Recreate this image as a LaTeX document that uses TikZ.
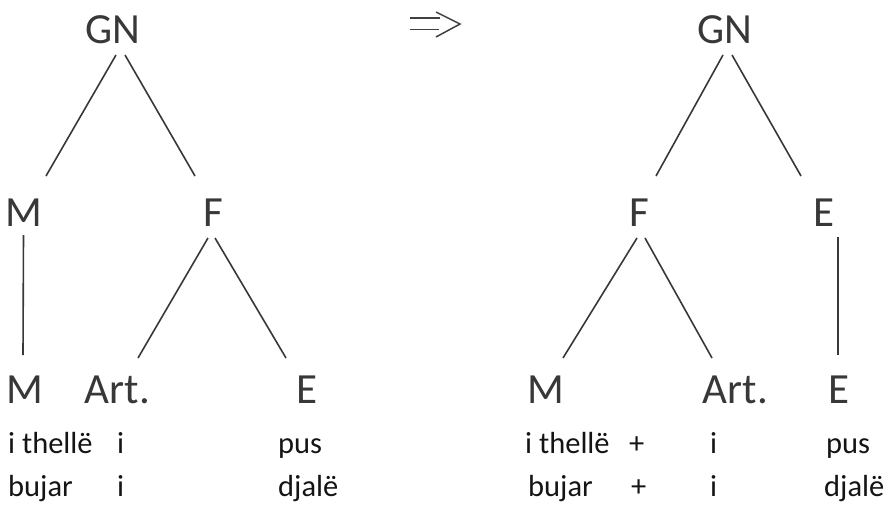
\documentclass[tikz,border=0pt]{standalone}
\usepackage{fontspec}
\setmainfont{Carlito}
\begin{document}
\begin{tikzpicture}[x=1pt,y=-1pt,
  lab/.style={anchor=base,inner sep=0pt,text=black!78,font=\fontsize{43}{50}\selectfont},
  word/.style={anchor=base west,inner sep=0pt,text=black!92,font=\fontsize{30.5}{36}\selectfont},
  edge/.style={draw=black!78,line width=1.6pt}]
\useasboundingbox (0,0) rectangle (888,506);
% left tree
\node[lab] (GNL) at (113,43) {GN};
\node[lab] (ML) at (23.5,226) {M};
\node[lab] (FL) at (213,226) {F};
\node[lab] (MbL) at (24.5,403) {M};
\node[lab] (ArtL) at (117.5,403) {Art.};
\node[lab] (EbL) at (307,403) {E};
\draw[edge] ([shift={(3,12)}]GNL.base) -- ([shift={(22.5,-50)}]ML.base);
\draw[edge] ([shift={(12,12)}]GNL.base) -- ([shift={(-18,-50)}]FL.base);
\draw[edge] ([shift={(0,9)}]ML.base) -- ([shift={(-1.5,-48)}]MbL.base);
\draw[edge] ([shift={(-5,12)}]FL.base) -- ([shift={(20.5,-45)}]ArtL.base);
\draw[edge] ([shift={(2,12)}]FL.base) -- ([shift={(-21,-45)}]EbL.base);
\node[word] (w1) at (8,453) {i thellë};
\node[word] (w2) at (117,453) {i};
\node[word] (w3) at (278,453) {pus};
\node[word] (w4) at (8,496) {bujar};
\node[word] (w5) at (117,496) {i};
\node[word] (w6) at (278,496) {djalë};
% arrow
\coordinate (ar1) at (410,18);
\coordinate (ar2) at (440,18);
\coordinate (ar3) at (410,29.5);
\coordinate (ar4) at (439,29.5);
\coordinate (ar5) at (436,12);
\coordinate (ar6) at (460,24);
\coordinate (ar7) at (436,37);
\draw[draw=black!75,line width=1.5pt] (ar1) -- (ar2);
\draw[draw=black!75,line width=1.5pt] (ar3) -- (ar4);
\draw[draw=black!75,line width=1.5pt] (ar5) -- (ar6) -- (ar7);
% right tree
\node[lab] (GNR) at (725,43) {GN};
\node[lab] (FR) at (639,226) {F};
\node[lab] (ER) at (824,226) {E};
\node[lab] (MbR) at (546,403) {M};
\node[lab] (ArtR) at (735.5,403) {Art.};
\node[lab] (EbR) at (839,403) {E};
\draw[edge] ([shift={(-2,12)}]GNR.base) -- ([shift={(17,-50)}]FR.base);
\draw[edge] ([shift={(7,12)}]GNR.base) -- ([shift={(-23,-50)}]ER.base);
\draw[edge] ([shift={(-2,12)}]FR.base) -- ([shift={(17,-45)}]MbR.base);
\draw[edge] ([shift={(6,12)}]FR.base) -- ([shift={(-23.5,-45)}]ArtR.base);
\draw[edge] ([shift={(14,11)}]ER.base) -- ([shift={(-1,-48)}]EbR.base);
\node[word] (r1) at (525,453) {i thellë};
\node[word] (r2) at (629,453) {+};
\node[word] (r3) at (710,453) {i};
\node[word] (r4) at (826,453) {pus};
\node[word] (r5) at (528,496) {bujar};
\node[word] (r6) at (631,496) {+};
\node[word] (r7) at (710,496) {i};
\node[word] (r8) at (824,496) {djalë};
\end{tikzpicture}
\end{document}
